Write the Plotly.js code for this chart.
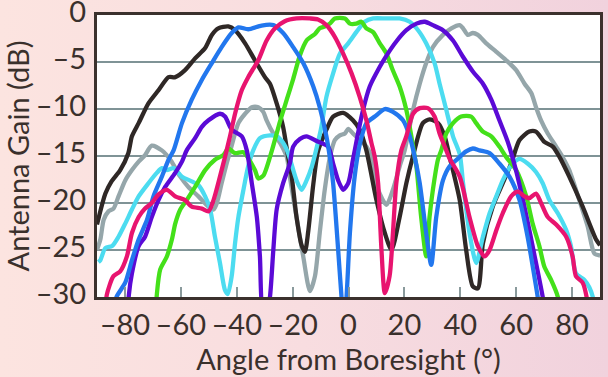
<!DOCTYPE html>
<html>
<head>
<meta charset="utf-8">
<script src="https://cdn.plot.ly/plotly-3.0.1.min.js"></script>
<style>
  html, body { margin: 0; padding: 0; }
  body { width: 608px; height: 377px; overflow: hidden;
         background: linear-gradient(to right, #fce4e0 0%, #f8dde0 50%, #f1d2dd 100%); }
  #chart { width: 608px; height: 377px; }
</style>
</head>
<body>
<div id="chart"></div>
<script>
// Angle (deg) and gain (dB) for each beam
const grayX  = [-90,-88.8,-87.6,-85.9,-84.1,-82.3,-79.9,-77.5,-75.1,-72.8,-70.4,-66.8,-63.5,-60.2,-57.3,-53.7,-50.1,-48.3,-47.1,-45.4,-43.6,-41.8,-39.4,-37,-34.6,-32.3,-30.5,-29.3,-26.9,-24.5,-22.1,-21,-18.6,-16.2,-13.8,-12,-10.3,-8.5,-6.7,-4.9,-3.1,-1.3,-0.1,1.6,4,6.4,8.2,10.6,13.6,15.9,18.3,20.1,23.1,25.5,27.8,30.2,33.8,36.8,39.8,41,42.7,44.5,46.3,49.3,52.9,56.4,60,63,65.4,67.1,68.9,71.3,74.3,76.6,79,82.6,85.6,88,90];
const grayY  = [-25,-23.9,-21.8,-20.9,-20.6,-19.3,-17.6,-16.5,-15.6,-14.9,-13.9,-14.4,-15.5,-17.2,-18.3,-19.3,-20.4,-20.7,-20.0,-17.9,-15.8,-13.9,-11.5,-10.5,-9.8,-9.8,-10.3,-11.2,-12.6,-13.6,-15.1,-17.2,-21.5,-25.7,-29.4,-27.8,-23.2,-18.6,-15.2,-13.3,-12.8,-12.6,-12.1,-12.6,-13.3,-14.0,-15.1,-18.6,-20.2,-18.6,-16.1,-14.4,-10.1,-7.3,-5.1,-3.4,-2.1,-1.4,-1.06,-1.4,-2.1,-1.9,-2.1,-3.0,-3.9,-4.8,-5.85,-7.3,-8.3,-9.8,-11.2,-12.6,-14.0,-15.1,-16.5,-19.7,-22.5,-25.4,-25.6];

const blackX = [-90,-87,-84.8,-81.7,-78.8,-77.5,-75.1,-71.6,-68,-64.4,-62,-58.5,-54.9,-51.3,-48.9,-46.6,-43,-40.6,-37,-33.5,-29.9,-28.1,-25.7,-23.4,-21.6,-20.4,-18.6,-16.8,-15.6,-14.4,-12.6,-10.9,-7.9,-5.5,-1.9,1.6,4,6.4,10,13,15.4,18.3,20.7,23,26.6,29,32,34.4,36.2,39.8,42.1,44.5,46.3,48.1,51.6,55.2,58.2,61.2,64.7,67.1,70.1,73.1,75.5,79,83.8,88.6,90];
const blackY = [-22.3,-19,-17.7,-16.5,-14.7,-12.9,-11.5,-9.4,-8.0,-6.6,-6.6,-5.85,-4.6,-3.5,-2.1,-1.4,-1.2,-1.6,-3.0,-4.8,-6.6,-7.3,-9.4,-11.9,-15.1,-17,-21.5,-24.5,-25.2,-23,-18,-14.5,-12.2,-10.8,-10.4,-11.2,-12.2,-14.4,-19.7,-23.2,-25.0,-21.5,-17.9,-15.1,-11.5,-11.1,-11.5,-12.9,-15.1,-19.7,-25,-28.9,-29.1,-24.3,-20.4,-17.9,-15.8,-13.3,-12.4,-12.4,-13.5,-14,-15.1,-17.2,-20.4,-23.9,-24.5];

const cyanX  = [-89.5,-88.8,-87,-84.6,-82.3,-79.9,-77.5,-75.1,-71.6,-68.6,-66.8,-65,-62.6,-59.6,-56.1,-53.7,-51.3,-49.5,-47.8,-46,-44.2,-43.2,-41.8,-40.6,-39.4,-37.6,-35.9,-34.1,-31.7,-28.1,-25.7,-23.4,-21.6,-18.6,-16.8,-15,-13.2,-11.7,-9.7,-7.9,-5.5,-3.1,-0.1,2.8,5.8,8.8,13.6,18.3,21.9,24.9,27.8,30.8,32.6,35,37.4,39.8,41,43.3,45.7,48.1,50.5,52.9,55.2,58.2,61.2,64.1,67.1,69.5,71.9,74.9,77.9,79.6,81.4,84.4,86.2,87.4,88];
const cyanY  = [-26.3,-26.1,-24.8,-24.6,-23.6,-22.2,-20.7,-19.3,-17.9,-16.8,-16.3,-16.5,-16.3,-17.2,-17.7,-18.1,-19.3,-20.7,-23.6,-26.4,-29.3,-29.7,-27.8,-24.3,-21.5,-18.6,-16.1,-14.4,-13.1,-12.8,-12.9,-13.6,-14.7,-17.6,-18.6,-17.6,-16.2,-14.5,-11.9,-8.7,-6.2,-4.1,-3.0,-1.8,-0.7,-0.35,-0.35,-0.35,-0.7,-1.6,-3.0,-5.1,-7.3,-10.1,-12.9,-14.8,-17.9,-23.2,-26.4,-23.6,-21.1,-19.3,-17.6,-16.0,-15.3,-15.8,-16.7,-17.9,-19.7,-21.1,-22.9,-24.6,-27.5,-28.2,-29,-30,-32];

const greenX = [-69,-68.6,-67.4,-65,-63.2,-62,-60.2,-57.9,-54.9,-51.3,-47.8,-44.8,-43,-40.6,-37.6,-33.5,-32.3,-30.5,-27.5,-24.5,-22.1,-19.8,-17.4,-15,-12,-10.3,-8.5,-6.7,-4.9,-1.3,0.5,2.8,4.6,6.4,8.8,11.2,13.6,15.9,18.3,20.7,22.5,23.7,24.3,26,27.8,29,30.2,32,33.2,35,37.4,40.3,43.9,45.7,48.1,51.1,54,56.4,60,63.6,65.9,68.3,70.1,72.5,74.9,75.5];
const greenY = [-32,-29.8,-27.1,-25.7,-23.9,-22.2,-20.7,-19.7,-18.3,-16.5,-15.4,-14.9,-14.2,-14.7,-14.6,-16.5,-17.4,-17.1,-14.5,-11.3,-9.0,-6.8,-4.3,-2.7,-2.0,-1.4,-1.2,-0.9,-0.35,-0.35,-0.9,-0.9,-0.7,-1.4,-1.8,-3.0,-4.1,-5.9,-7.6,-10.1,-12.9,-15.1,-16.1,-21.5,-25.7,-21.5,-18.6,-15.4,-14.4,-12.6,-11.5,-10.8,-10.8,-11.5,-12.4,-12.9,-14.0,-15.1,-16.5,-19.3,-22.2,-24.6,-26.8,-28.2,-30,-32];

const purpleX = [-79,-78.6,-77.5,-75.1,-72.8,-70.4,-68,-65.6,-62,-59.6,-57.9,-54.9,-52.5,-50.1,-46,-44.2,-41.8,-38.2,-36.4,-34.6,-32.8,-31.7,-30.5,-29.3,-28.1,-26.9,-25.7,-23.4,-21,-19.8,-17.4,-15,-11.4,-7.3,-5.5,-3.7,-1.9,-0.1,1.6,3.4,5.2,7.6,11.2,13.6,17.1,20.7,24.3,27.3,30.2,33.8,37.4,40.9,44.5,48.1,51.1,54,57,60,63.6,66.5,69.5,70.5];
const purpleY = [-32,-29.8,-27.5,-24.6,-23.6,-21.5,-19.7,-18.3,-16.8,-15.6,-14.4,-13.1,-11.9,-11.2,-10.5,-10.8,-12.2,-12.9,-14.4,-17.9,-21.5,-25.7,-32,-32,-30,-25,-20.7,-17.9,-15.8,-14.0,-13.2,-12.9,-13.4,-14.0,-15.8,-17.6,-18.6,-17.9,-15.4,-12.6,-10.1,-7.6,-5.5,-4.3,-2.8,-1.6,-0.9,-0.7,-1.06,-1.6,-2.7,-4.4,-6.0,-7.3,-9.0,-11.2,-13.5,-16.6,-21.3,-25.5,-30,-32];

const blueX  = [-84,-83,-79.9,-77.5,-75.1,-72.1,-69.8,-66.8,-64.4,-62.6,-59.6,-56.1,-52.5,-48.9,-45.4,-41.8,-39.4,-35.9,-31.1,-26.9,-23.4,-19.8,-16.2,-12.6,-10.3,-7.9,-6.7,-5.5,-3.7,-2.5,-1.6,-0.7,0.5,2.2,4,6.4,9.4,13,15.9,19.5,21.9,23.7,25.5,27.8,29.6,31.4,33.8,36.2,39.8,42.1,44.5,46.9,50.5,54,57.6,61.2,64.1,66.5,67.7,68.5];
const blueY  = [-31.5,-30,-28.5,-26.1,-23.9,-21.8,-19.3,-17.2,-15.4,-14.4,-11.5,-9.0,-6.9,-5.1,-3.4,-1.9,-1.3,-1.5,-1.1,-1.06,-1.9,-3.4,-5.1,-7.6,-9.8,-12.9,-15.1,-17.9,-25,-30,-33,-30,-23.2,-17.2,-13.8,-11.5,-10.8,-10.0,-10.3,-11.2,-12.9,-15.1,-17.9,-23.2,-26.6,-21.5,-17.6,-16.1,-15.1,-14.5,-14.2,-14.4,-14.7,-15.8,-17.2,-19.7,-23.6,-27.8,-30,-32];

const magentaX = [-87,-86.5,-84.1,-81.7,-79.3,-77.5,-75.1,-72.8,-70.4,-68,-65,-62,-58.5,-56.1,-52.5,-50.1,-48.3,-46,-44.2,-42.4,-40.6,-38.2,-35.9,-32.3,-29.3,-26.3,-22.8,-18.6,-13.8,-10.9,-7.9,-4.9,-1.9,1.1,4,6.4,8.2,9.4,10.6,11.8,13,14.7,15.9,17.1,18.9,20.7,23.1,25.5,28.4,30.8,32.6,35,36.2,39.8,43.3,46.3,48.7,50.5,52.9,55.2,58.2,60.6,63,64.7,67.1,68.9,71.3,74.3,77.9,80.2,81.4,83.8,85.2,86];
const magentaY = [-32,-29.8,-27.8,-27.3,-25.7,-23.2,-21.5,-20.6,-20.0,-19.1,-18.6,-19.3,-19.7,-20.4,-20.6,-20.9,-19.7,-17.2,-15.1,-12.9,-10.5,-8.0,-6.6,-4.8,-2.7,-1.4,-0.64,-0.35,-0.35,-0.46,-1.06,-2.3,-4.1,-6.2,-8.7,-11.2,-13.6,-15.1,-17.9,-25,-29.6,-27.8,-23.2,-17.9,-14.4,-12.9,-10.5,-9.9,-9.9,-10.8,-12.6,-14.4,-15.3,-17.2,-21.5,-24.6,-25.7,-25,-22.9,-21.1,-19.3,-18.8,-19.3,-19.5,-19.0,-20,-21.5,-22.3,-23.6,-25.7,-27.8,-28.5,-30,-32];

const xTicks = [-80,-60,-40,-20,0,20,40,60,80];
const yTicks = [-30,-25,-20,-15,-10,-5,0];

const beams = [
  {x: grayX,    y: grayY,    color: '#95a6aa'},
  {x: blackX,   y: blackY,   color: '#2f2826'},
  {x: cyanX,    y: cyanY,    color: '#4cdcf0'},
  {x: greenX,   y: greenY,   color: '#44e01a'},
  {x: purpleX,  y: purpleY,  color: '#5b0ad6'},
  {x: blueX,    y: blueY,    color: '#2277ee'},
  {x: magentaX, y: magentaY, color: '#e8146f'}
];

const traces = beams.map(b => ({
  x: b.x, y: b.y, type: 'scatter', mode: 'lines',
  line: {color: b.color, width: 4.3, shape: 'spline', smoothing: 0.7},
  hoverinfo: 'skip', showlegend: false
}));

const txt = '#3a302c';
const fs = 29;
const lbl = v => v < 0 ? '\u2013' + Math.abs(v) : String(v);
const layout = {
  width: 608, height: 377,
  margin: {l: 97, r: 8, t: 15, b: 80, pad: 0},
  paper_bgcolor: 'rgba(0,0,0,0)',
  plot_bgcolor: '#ffffff',
  font: {family: 'Lato, "Open Sans", sans-serif', color: txt, size: fs},
  showlegend: false,
  xaxis: {
    range: [-90, 90], tickvals: xTicks, ticktext: xTicks.map(lbl),
    showgrid: false, zeroline: false,
    showline: true, mirror: true, linecolor: '#3b312d', linewidth: 3,
    ticks: 'inside', ticklen: 10, tickwidth: 2, tickcolor: '#8a9a9c',
    tickfont: {size: fs, color: txt}, ticklabeloverflow: 'allow',
    title: {text: 'Angle from Boresight (°)', font: {size: fs, color: txt}, standoff: 4}
  },
  yaxis: {
    range: [-30.02, 0.02], tickvals: yTicks, ticktext: yTicks.map(lbl),
    showgrid: true, gridcolor: '#7f9396', gridwidth: 2.5, zeroline: false,
    showline: true, mirror: true, linecolor: '#3b312d', linewidth: 3,
    ticks: '', tickfont: {size: fs, color: txt}, ticklabeloverflow: 'allow',
    ticklabelstandoff: 2, ticklabelshift: -3,
    title: {text: 'Antenna Gain (dB)', font: {size: fs, color: txt}, standoff: 10}
  }
};

Plotly.newPlot('chart', traces, layout, {displayModeBar: false, staticPlot: true});
</script>
</body>
</html>
